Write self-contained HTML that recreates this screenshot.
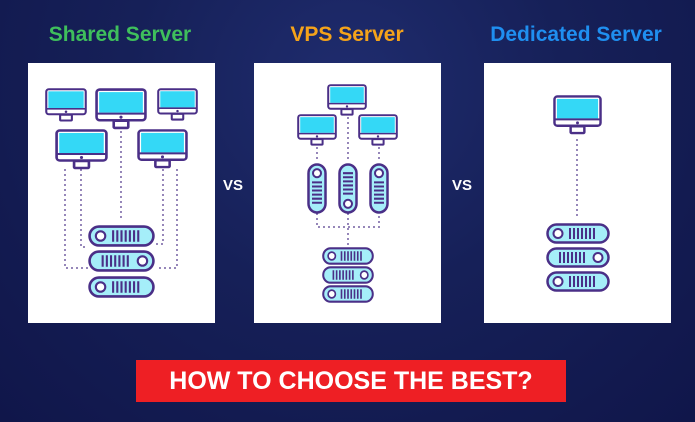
<!DOCTYPE html>
<html><head><meta charset="utf-8"><style>
html,body{margin:0;padding:0}
body{width:695px;height:422px;overflow:hidden;background:radial-gradient(ellipse at 50% 20%,#1f2c6e 0%,#162058 45%,#10164a 100%);font-family:"Liberation Sans",sans-serif;position:relative}
.t{position:absolute;top:23px;font-weight:bold;font-size:21px;text-align:center;width:240px}
.p{position:absolute;top:63px;width:187px;height:260px;background:#fff}
.vs{position:absolute;top:177px;color:#fff;font-weight:bold;font-size:15px}
.b{position:absolute;left:136px;top:360px;width:430px;height:42px;background:#ee1f24;color:#fff;font-weight:bold;font-size:25px;text-align:center;line-height:42px}
</style></head><body>
<div class="t" style="left:0;color:#3fbf5c">Shared Server</div>
<div class="t" style="left:227px;color:#f5a31a">VPS Server</div>
<div class="t" style="left:456px;color:#1f8ff0">Dedicated Server</div>
<div class="p" style="left:28px"></div>
<div class="p" style="left:254px"></div>
<div class="p" style="left:484px"></div>
<div class="vs" style="left:223px">VS</div>
<div class="vs" style="left:452px">VS</div>
<div class="b">HOW TO CHOOSE THE BEST?</div>
<svg width="695" height="422" style="position:absolute;left:0;top:0">
<defs>
<symbol id="mon" viewBox="0 0 50 42" preserveAspectRatio="none">
<rect x="1.5" y="1.5" width="47" height="30" rx="3" fill="#fff" stroke="#4a2f87" stroke-width="2.5"/>
<rect x="4" y="4" width="42" height="20" fill="#34d8f6"/>
<line x1="2" y1="25" x2="48" y2="25" stroke="#4a2f87" stroke-width="2"/>
<circle cx="25" cy="28.5" r="1.5" fill="#4a2f87"/>
<rect x="18" y="32" width="14" height="7" rx="1" fill="#fff" stroke="#4a2f87" stroke-width="2.5"/>
</symbol>
<symbol id="srv" viewBox="0 0 64 21" preserveAspectRatio="none">
<rect x="1.5" y="1.5" width="61" height="18" rx="9" fill="#a5eef9" stroke="#4a2f87" stroke-width="2.5"/>
<circle cx="12" cy="10.5" r="4.5" fill="#fff" stroke="#4a2f87" stroke-width="2"/>
<g stroke="#4a2f87" stroke-width="2"><path d="M24 5V16M28 5V16M32 5V16M36 5V16M40 5V16M44 5V16M48 5V16"/></g>
</symbol>
<symbol id="srv2" viewBox="0 0 64 21" preserveAspectRatio="none">
<rect x="1.5" y="1.5" width="61" height="18" rx="9" fill="#a5eef9" stroke="#4a2f87" stroke-width="2.5"/>
<circle cx="52" cy="10.5" r="4.5" fill="#fff" stroke="#4a2f87" stroke-width="2"/>
<g stroke="#4a2f87" stroke-width="2"><path d="M14 5V16M18 5V16M22 5V16M26 5V16M30 5V16M34 5V16M38 5V16"/></g>
</symbol>
<symbol id="pill" viewBox="0 0 20 50" preserveAspectRatio="none">
<rect x="1.5" y="1.5" width="17" height="47" rx="8.5" fill="#a5eef9" stroke="#4a2f87" stroke-width="2.5"/>
<circle cx="10" cy="10" r="4" fill="#fff" stroke="#4a2f87" stroke-width="2"/>
<g stroke="#4a2f87" stroke-width="2"><path d="M5 19H15M5 23H15M5 27H15M5 31H15M5 35H15M5 39H15"/></g>
</symbol>
<symbol id="pill2" viewBox="0 0 20 50" preserveAspectRatio="none">
<rect x="1.5" y="1.5" width="17" height="47" rx="8.5" fill="#a5eef9" stroke="#4a2f87" stroke-width="2.5"/>
<circle cx="10" cy="40" r="4" fill="#fff" stroke="#4a2f87" stroke-width="2"/>
<g stroke="#4a2f87" stroke-width="2"><path d="M5 10H15M5 14H15M5 18H15M5 22H15M5 26H15M5 30H15"/></g>
</symbol>
</defs>
<g fill="none" stroke="#4a2f87" stroke-width="1.8" stroke-linecap="round" stroke-dasharray="0 5">
<path d="M65 170V268H88"/><path d="M81 170V247H88"/><path d="M121 132V222"/>
<path d="M163 170V244H155"/><path d="M177 170V268H155"/>
<path d="M317 148V163"/><path d="M348 118V163"/><path d="M379 148V163"/>
<path d="M317 214V227H379V214"/><path d="M348 214V246"/>
<path d="M577 140V220"/>
</g>
<use href="#mon" x="45" y="88" width="42" height="35"/>
<use href="#mon" x="95" y="88" width="52" height="43"/>
<use href="#mon" x="157" y="88" width="41" height="34"/>
<use href="#mon" x="55" y="129" width="53" height="42"/>
<use href="#mon" x="137" y="129" width="51" height="41"/>
<use href="#srv" x="88" y="225" width="67" height="22"/>
<use href="#srv2" x="88" y="250" width="67" height="22"/>
<use href="#srv" x="88" y="276" width="67" height="22"/>
<use href="#mon" x="327" y="84" width="40" height="33"/>
<use href="#mon" x="297" y="114" width="40" height="33"/>
<use href="#mon" x="358" y="114" width="40" height="33"/>
<use href="#pill" x="307" y="163" width="20" height="51"/>
<use href="#pill2" x="338" y="163" width="20" height="51"/>
<use href="#pill" x="369" y="163" width="20" height="51"/>
<use href="#srv" x="322" y="247" width="52" height="18"/>
<use href="#srv2" x="322" y="266" width="52" height="18"/>
<use href="#srv" x="322" y="285" width="52" height="18"/>
<use href="#mon" x="553" y="95" width="49" height="41"/>
<use href="#srv" x="546" y="223" width="64" height="21"/>
<use href="#srv2" x="546" y="247" width="64" height="21"/>
<use href="#srv" x="546" y="271" width="64" height="21"/>
</svg>
</body></html>
